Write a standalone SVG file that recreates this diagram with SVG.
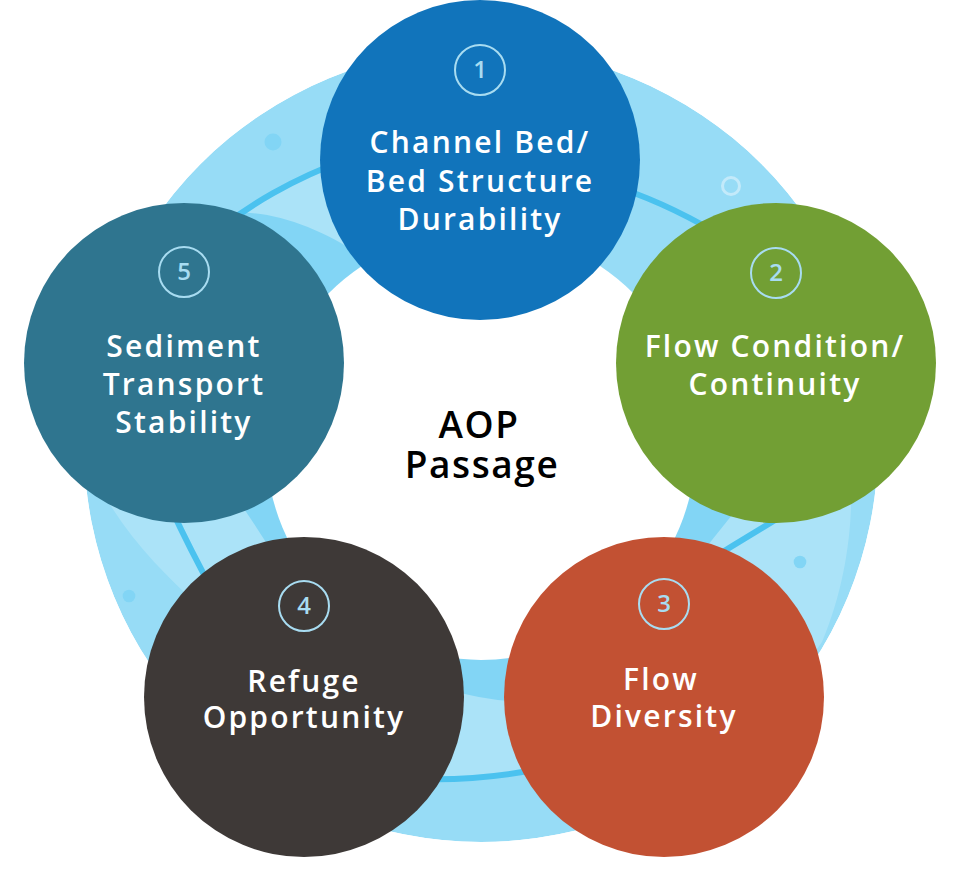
<svg xmlns="http://www.w3.org/2000/svg" width="960" height="892" viewBox="0 0 960 892">
  <defs>
    <clipPath id="ringClip">
      <circle cx="481" cy="445" r="397"/>
    </clipPath>
    <style>
      .lbl { font-family: "Open Sans", "Liberation Sans", sans-serif; font-weight: 600; font-size: 30px; fill: #ffffff; text-anchor: middle; letter-spacing: 2.2px; }
      .num { font-family: "Open Sans", "Liberation Sans", sans-serif; font-weight: 600; font-size: 24px; fill: #a8dcf1; text-anchor: middle; }
      .badge { fill: none; stroke: #a8dcf1; stroke-width: 2; }
      .center { font-family: "Open Sans", "Liberation Sans", sans-serif; font-weight: 600; font-size: 37px; fill: #000000; text-anchor: middle; letter-spacing: 1.6px; }
      .wline { fill: none; stroke: #4bc2ef; stroke-width: 6; stroke-linecap: butt; }
      .dot { fill: #82d5f5; }
    </style>
  </defs>
  <rect width="960" height="892" fill="#ffffff"/>

  <g id="ring" clip-path="url(#ringClip)">
    <circle cx="481" cy="445" r="397" fill="#97dcf6"/>
    <path fill="#abe3f8" d="M 215,232 C 250,205 290,180 350,158 L 420,170 L 560,250 L 600,310 L 690,370 L 860,430 L 851,470 C 853,520 848,580 822,642 L 780,700 L 600,790 L 545,768 Q 480,781 420,779 L 350,790 L 200,607 C 165,575 130,540 103,493 L 90,420 L 170,260 Z"/>
    <path fill="#82d5f5" d="M 215,215 C 260,205 320,225 370,262 L 420,300 L 600,320 L 680,410 L 760,480 L 740,505 L 700,555 L 640,640 L 510,701 Q 480,699 450,690 L 350,640 L 280,565 Q 262,535 238,500 L 150,420 L 170,260 Z"/>
    <path class="wline" d="M 215,232 C 250,205 290,180 350,158"/>
    <path class="wline" d="M 610,185 Q 660,200 715,232"/>
    <path class="wline" d="M 700,566 Q 745,538 792,510"/>
    <path class="wline" d="M 420,779 Q 480,781 545,768"/>
    <path class="wline" d="M 165,495 Q 185,540 215,595"/>
    <circle class="dot" cx="273" cy="142" r="8.5"/>
    <circle class="dot" cx="800" cy="562" r="6.3"/>
    <circle class="dot" cx="129" cy="596" r="6.3"/>
    <circle cx="731" cy="186" r="8.5" fill="none" stroke="#c3eafa" stroke-width="3"/>
  </g>
  <circle cx="481" cy="445" r="215" fill="#ffffff"/>

  <g id="center-label">
    <text class="center"><tspan x="479" y="438">AOP</tspan><tspan x="482" y="478">Passage</tspan></text>
  </g>

  <g id="node1">
    <circle cx="480" cy="160" r="160" fill="#1174bb"/>
    <circle class="badge" cx="480" cy="70" r="25"/>
    <text class="num" x="480" y="78">1</text>
    <text class="lbl"><tspan x="480" y="153">Channel Bed/</tspan><tspan x="480" y="192">Bed Structure</tspan><tspan x="480" y="230">Durability</tspan></text>
  </g>

  <g id="node2">
    <circle cx="776" cy="363" r="160" fill="#729f34"/>
    <circle class="badge" cx="776" cy="273" r="25"/>
    <text class="num" x="776" y="281">2</text>
    <text class="lbl"><tspan x="775" y="357">Flow Condition/</tspan><tspan x="775" y="395">Continuity</tspan></text>
  </g>

  <g id="node3">
    <circle cx="664" cy="697" r="160" fill="#c25133"/>
    <circle class="badge" cx="664" cy="604" r="25"/>
    <text class="num" x="664" y="612">3</text>
    <text class="lbl"><tspan x="661" y="690">Flow</tspan><tspan x="664" y="727">Diversity</tspan></text>
  </g>

  <g id="node4">
    <circle cx="304" cy="697" r="160" fill="#3e3937"/>
    <circle class="badge" cx="304" cy="606" r="25"/>
    <text class="num" x="304" y="614">4</text>
    <text class="lbl"><tspan x="304" y="692">Refuge</tspan><tspan x="304" y="728">Opportunity</tspan></text>
  </g>

  <g id="node5">
    <circle cx="184" cy="363" r="160" fill="#2f758f"/>
    <circle class="badge" cx="184" cy="272" r="25"/>
    <text class="num" x="184" y="280">5</text>
    <text class="lbl"><tspan x="184" y="357">Sediment</tspan><tspan x="184" y="395">Transport</tspan><tspan x="184" y="433">Stability</tspan></text>
  </g>
</svg>
